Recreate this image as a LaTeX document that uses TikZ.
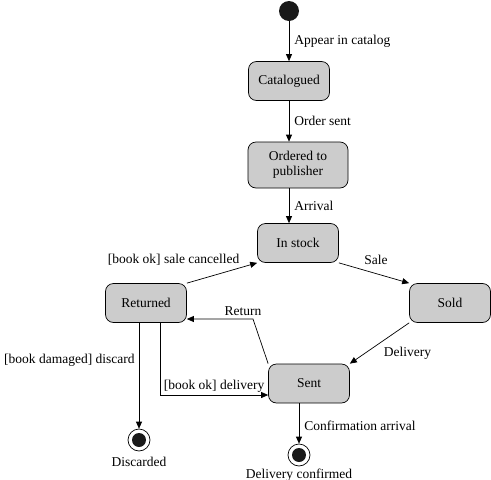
\documentclass[tikz,border=0pt]{standalone}
\usepackage{fontspec}
\setmainfont{Liberation Serif}
\usetikzlibrary{arrows.meta,calc}

\tikzset{
  statebox/.style={draw, rounded corners=8pt, fill=gray!40, minimum width=81pt,
    minimum height=39pt, align=center, inner sep=2pt},
  startdot/.style={circle, fill=black!90, minimum size=20pt, inner sep=0pt},
  enddot/.style={circle, draw, fill=white, minimum size=22pt, inner sep=0pt,
    path picture={\fill[black!90] (path picture bounding box.center) circle (7pt);}},
  lbl/.style={inner sep=5pt}
}

\begin{document}
\begin{tikzpicture}[x=1pt, y=-1pt, line width=0.7pt,
  >={Triangle[length=7pt,width=6pt]},
  every node/.style={font=\fontsize{13.5}{15}\selectfont}]
  \useasboundingbox (0,0) rectangle (491,480);

  \node[startdot] (start) at (289,11) {};
  \node[statebox] (catalogued) at (289,81) {Catalogued};
  \node[statebox, minimum width=100pt, minimum height=46pt] (ordered) at (298,165) {Ordered to\\publisher};
  \node[statebox] (instock) at (298,243) {In stock};
  \node[statebox] (returned) at (146,303) {Returned};
  \node[statebox] (sold) at (450,303) {Sold};
  \node[statebox] (sent) at (309,383.5) {Sent};
  \node[enddot, label={[yshift=-2pt]below:Discarded}] (discarded) at (139,440) {};
  \node[enddot, label={[yshift=1.5pt]below:Delivery confirmed}] (confirmed) at (299,455) {};
  \coordinate (retbend) at (253,319);

  \path[->]
  (start) edge node[lbl, right] {Appear in catalog} (catalogued)
  (catalogued) edge node[lbl, right] {Order sent} (ordered.north -| catalogued)
  (ordered.south -| catalogued) edge node[lbl, right] {Arrival} (instock.north -| catalogued)
  (instock.south east) edge node[lbl, above right, pos=0.3, inner sep=4pt] {Sale} (sold.north west)
  (sold.south west) edge node[lbl, below right, pos=0.5, inner sep=4pt] {Delivery} (sent.north east)
  (returned.north east) edge node[lbl, above left, pos=0.78, inner sep=2pt] {[book ok] sale cancelled} (instock.south west)
  (returned.south -| discarded) edge node[lbl, left, pos=0.35, inner sep=4pt] {[book damaged] discard} (discarded)
  (sent.south -| confirmed) edge node[lbl, right, pos=0.55] {Confirmation arrival} (confirmed);

  \draw[->] (sent.north west) -- (retbend) -- node[lbl, above, pos=0.15, inner sep=3pt] {Return} (retbend -| returned.east);
  \draw[->] ([xshift=14pt]returned.south) |- node[lbl, above, pos=0.75, inner sep=2pt] {[book ok] delivery} ([yshift=-11.5pt]sent.west);
\end{tikzpicture}
\end{document}
